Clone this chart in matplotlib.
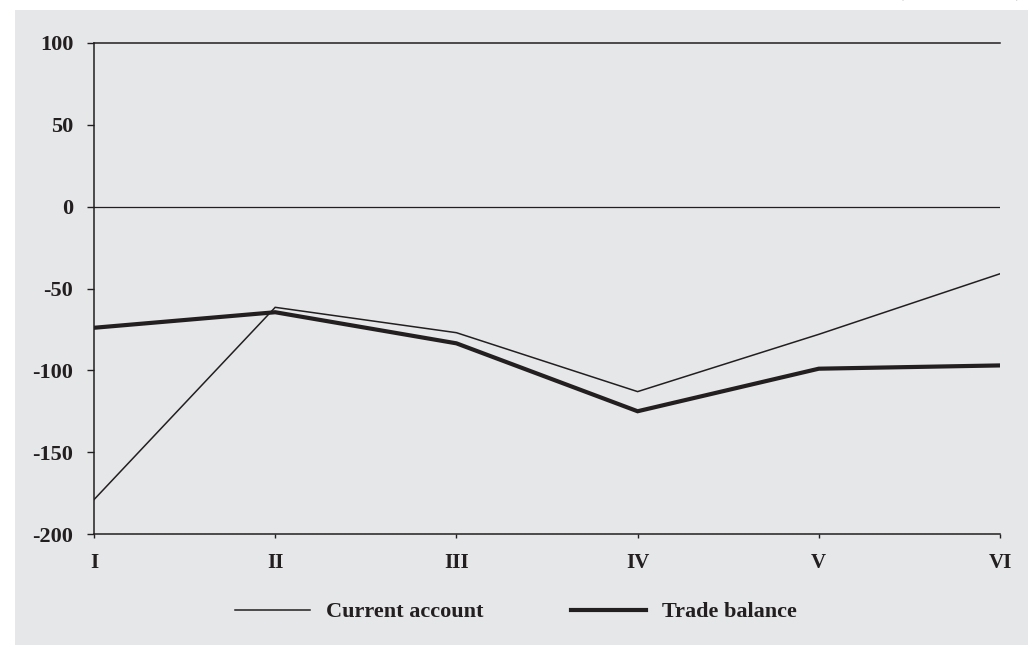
import matplotlib
matplotlib.use("Agg")
import matplotlib.pyplot as plt
from matplotlib.patches import Rectangle
from matplotlib.lines import Line2D

categories = ["I", "II", "III", "IV", "V", "VI"]
current_account = [-179, -61.5, -77, -113, -78, -41]
trade_balance = [-74, -64.5, -83.5, -125, -99, -97]
y_ticks = [100, 50, 0, -50, -100, -150, -200]

plt.rcParams['font.family'] = ['Liberation Serif', 'DejaVu Serif']
plt.rcParams['font.weight'] = 'bold'

ink = '#231f20'
bg = '#e6e7e9'

fig = plt.figure(figsize=(10.28, 6.45), dpi=100)
fig.patch.set_facecolor('white')
fig.patches.append(Rectangle((15/1028, 0), 1, (645-10)/645, transform=fig.transFigure,
                             facecolor=bg, edgecolor='none', zorder=-10))

fig.text(0.934, 1.0, "(EUR million)", ha='center', va='bottom',
         fontsize=15, fontweight='bold', color=ink)

ax = fig.add_axes([94/1028, 1-534/645, (1000-94)/1028, (534-43)/645])
ax.set_facecolor(bg)
x = list(range(len(categories)))
ax.plot(x, current_account, color=ink, lw=1.1, solid_joinstyle='miter', zorder=3)
ax.plot(x, trade_balance, color=ink, lw=3.0, solid_joinstyle='miter', zorder=2)
ax.axhline(0, color=ink, lw=0.9, zorder=1)

ax.set_xlim(0, 5)
ax.set_ylim(-200, 100)
ax.set_yticks(y_ticks)
ax.set_yticklabels([str(v) for v in y_ticks])
ax.set_xticks(x)
ax.set_xticklabels(categories)
ax.tick_params(axis='y', direction='out', length=5, width=1, color=ink,
               labelsize=16, pad=10, labelcolor=ink)
ax.tick_params(axis='x', direction='out', length=3, width=1, color=ink,
               labelsize=15, pad=11, labelcolor=ink)
for lab in ax.get_xticklabels() + ax.get_yticklabels():
    lab.set_fontweight('bold')
for s in ['left', 'bottom', 'top']:
    ax.spines[s].set_color(ink)
    ax.spines[s].set_linewidth(1.1)
ax.spines['right'].set_visible(False)

handles = [Line2D([], [], color=ink, lw=1.1), Line2D([], [], color=ink, lw=3.0)]
leg = fig.legend(handles, ["Current account", "Trade balance"], loc='center',
                 bbox_to_anchor=(516/1028, 1-612/645), ncol=2, frameon=False,
                 handlelength=3.4, handletextpad=0.72, columnspacing=3.9,
                 prop={'size': 16, 'weight': 'bold'})
for t in leg.get_texts():
    t.set_color(ink)

fig.savefig("out.png", dpi=100, facecolor=fig.get_facecolor())
